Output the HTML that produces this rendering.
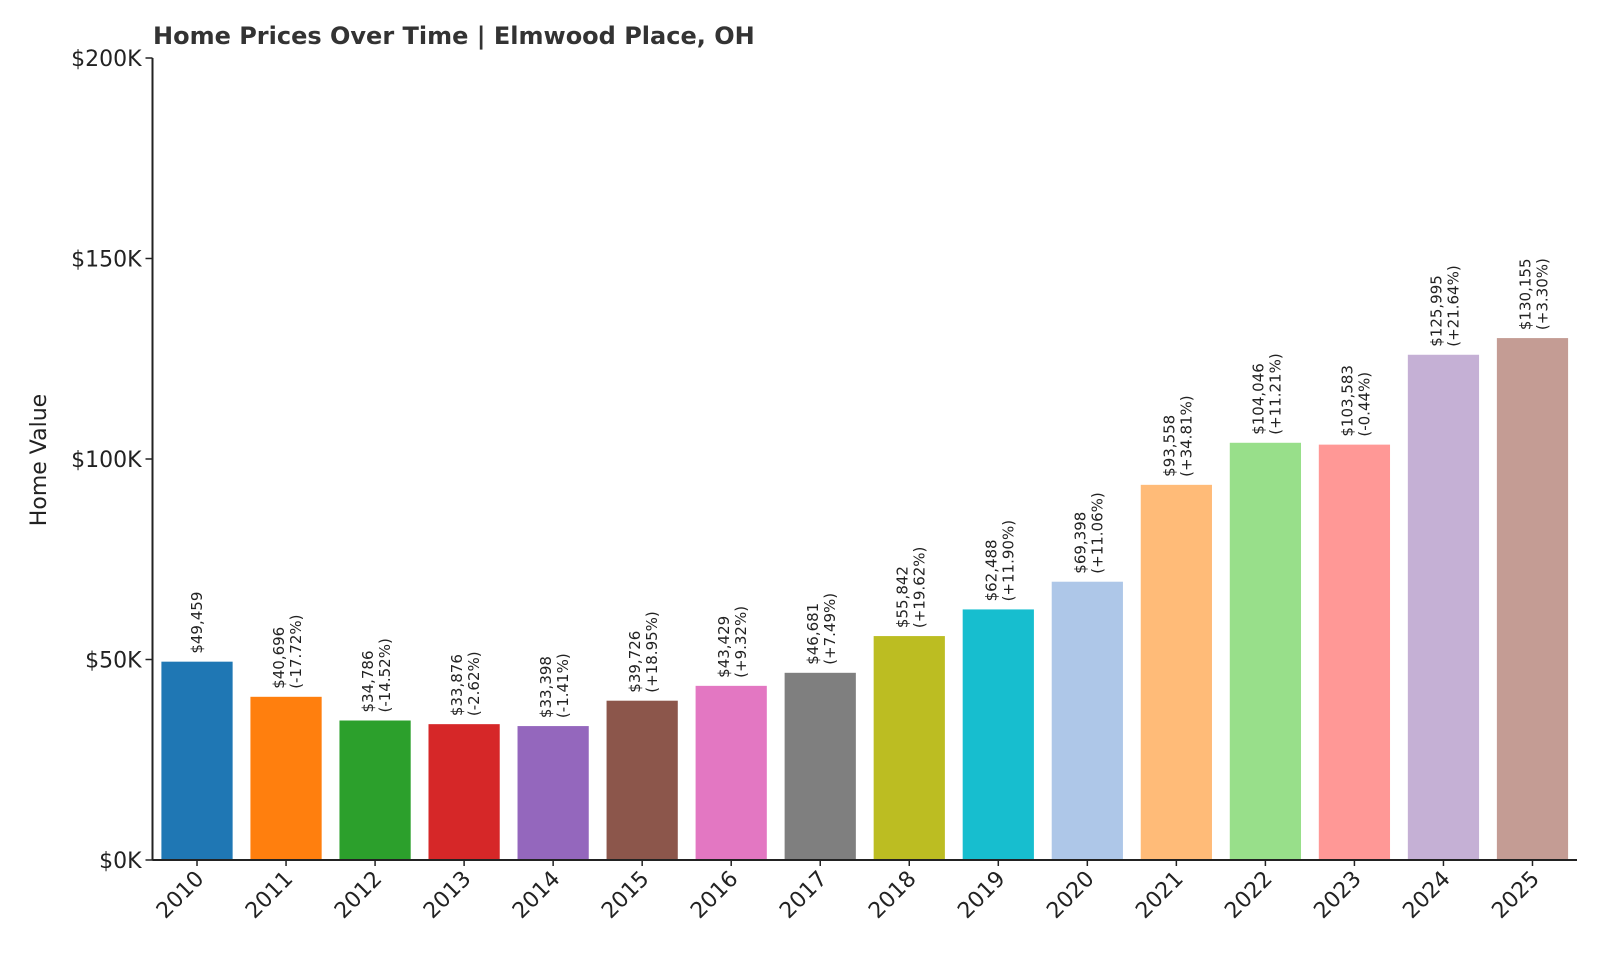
<!DOCTYPE html>
<html><head><meta charset="utf-8"><style>
body{margin:0;background:#fff}
svg text{font-family:"DejaVu Sans","Liberation Sans",sans-serif;fill:#222}
</style></head><body>
<svg id="chart" width="1600" height="960" xmlns="http://www.w3.org/2000/svg">
<text x="153" y="44" font-size="24" font-weight="bold" fill="#333" style="fill:#333">Home Prices Over Time | Elmwood Place, OH</text>
<text transform="translate(46,460) rotate(-90)" text-anchor="middle" font-size="22">Home Value</text>
<g id="bars"></g>
<g id="axes"></g>
</svg>
<script>
const years=["2010","2011","2012","2013","2014","2015","2016","2017","2018","2019","2020","2021","2022","2023","2024","2025"];
const values=[49459,40696,34786,33876,33398,39726,43429,46681,55842,62488,69398,93558,104046,103583,125995,130155];
const changes=["","-17.72%","-14.52%","-2.62%","-1.41%","+18.95%","+9.32%","+7.49%","+19.62%","+11.90%","+11.06%","+34.81%","+11.21%","-0.44%","+21.64%","+3.30%"];
const yTicks=[0,50000,100000,150000,200000];
const yTickLabels=["$0K","$50K","$100K","$150K","$200K"];
const colors=["#1f77b4","#ff7f0e","#2ca02c","#d62728","#9467bd","#8c564b","#e377c2","#7f7f7f","#bcbd22","#17becf","#aec7e8","#ffbb78","#98df8a","#ff9896","#c5b0d5","#c49c94"];
const NS="http://www.w3.org/2000/svg";
const X0=152.5,X1=1577,Y0=860,Y1=58,YMAX=200000;
const band=(X1-X0)/years.length;
const xc=i=>X0+band*(i+0.5);
const y=v=>Y0-(v/YMAX)*(Y0-Y1);
function mk(tag,attrs,parent){const e=document.createElementNS(NS,tag);for(const k in attrs)e.setAttribute(k,attrs[k]);parent.appendChild(e);return e;}
const bars=document.getElementById('bars'),axes=document.getElementById('axes');
years.forEach((yr,i)=>{
  const w=band*0.8,top=y(values[i]);
  const r=mk('rect',{x:xc(i)-w/2,y:top,width:w,height:Y0-top,fill:colors[i]},bars);
  
  
  const val='$'+values[i].toLocaleString('en-US');
  const cx=xc(i);
  if(changes[i]===""){
    const t=mk('text',{transform:`translate(${cx+5},${top-8}) rotate(-90)`,'font-size':15},bars);t.textContent=val;
    
    
  }else{
    const t=mk('text',{transform:`translate(${cx-2},${top-8}) rotate(-90)`,'font-size':15},bars);t.textContent=val;
    
    
    const t2=mk('text',{transform:`translate(${cx+15},${top-8}) rotate(-90)`,'font-size':15},bars);t2.textContent='('+changes[i]+')';
    
    
  }
  mk('line',{x1:cx,x2:cx,y1:Y0,y2:Y0+6,stroke:'#222','stroke-width':1.5},axes);
  const tl=mk('text',{transform:`translate(${cx+8},${Y0+20}) rotate(-45)`,'text-anchor':'end','font-size':22},axes);tl.textContent=yr;
  
  
});
yTicks.forEach((v,i)=>{
  mk('line',{x1:X0-7,x2:X0,y1:y(v),y2:y(v),stroke:'#222','stroke-width':1.5},axes);
  const t=mk('text',{x:X0-11,y:y(v)+8,'text-anchor':'end','font-size':22},axes);t.textContent=yTickLabels[i];
  
  
});
const ya=mk('line',{x1:X0,x2:X0,y1:Y1,y2:Y0,stroke:'#222','stroke-width':2},axes);


const xa=mk('line',{x1:X0,x2:X1,y1:Y0,y2:Y0,stroke:'#222','stroke-width':2},axes);


</script>
</body></html>
